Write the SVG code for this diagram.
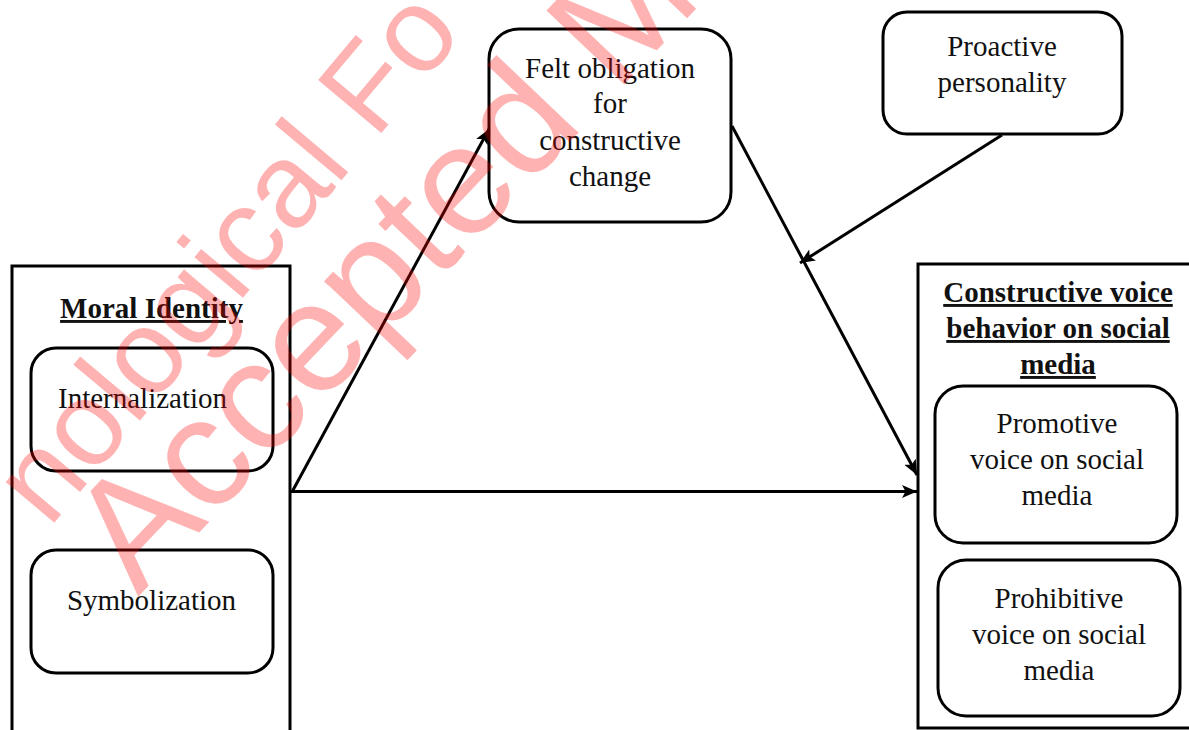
<svg xmlns="http://www.w3.org/2000/svg" width="1189" height="730" viewBox="0 0 1189 730">
<style>
.box{fill:none;stroke:#000;stroke-width:3}
.t{font-family:"Liberation Serif","Times New Roman",serif;font-size:29px;fill:#111}
.c{text-anchor:middle}
.b{font-weight:bold;text-decoration:underline}
.ln{fill:none;stroke:#000;stroke-width:3}
.wm{font-family:"Liberation Sans",Arial,sans-serif;fill:#ff0000;fill-opacity:0.3}
</style>
<defs>
<marker id="ah" markerUnits="userSpaceOnUse" markerWidth="16" markerHeight="14" refX="15" refY="6.5" orient="auto">
<path d="M0,0 L15,6.5 L0,13 L3.5,6.5 z" fill="#000"/>
</marker>
</defs>
<rect width="1189" height="730" fill="#fff"/>
<g id="moral-identity">
<rect class="box" x="12" y="266" width="278" height="480"/>
<text class="t c b" x="151.5" y="318">Moral Identity</text>
</g>
<g id="internalization">
<rect class="box" x="31" y="348" width="242" height="123" rx="25"/>
<text class="t" x="58" y="408">Internalization</text>
</g>
<g id="symbolization">
<rect class="box" x="31" y="550" width="242" height="123" rx="25"/>
<text class="t c" x="151.5" y="610">Symbolization</text>
</g>
<g id="felt-obligation">
<rect class="box" x="489" y="29" width="242" height="193" rx="30"/>
<text class="t c" x="610" y="78">Felt obligation</text>
<text class="t c" x="610" y="113">for</text>
<text class="t c" x="610" y="150">constructive</text>
<text class="t c" x="610" y="186">change</text>
</g>
<g id="proactive-personality">
<rect class="box" x="883" y="12" width="239" height="122" rx="24"/>
<text class="t c" x="1002" y="56">Proactive</text>
<text class="t c" x="1002" y="92">personality</text>
</g>
<g id="constructive-voice">
<rect class="box" x="918" y="264" width="290" height="464"/>
<text class="t c b" x="1058" y="302">Constructive voice</text>
<text class="t c b" x="1058" y="338">behavior on social</text>
<text class="t c b" x="1058" y="374">media</text>
</g>
<g id="promotive-voice">
<rect class="box" x="935" y="386" width="242" height="157" rx="28"/>
<text class="t c" x="1057" y="433">Promotive</text>
<text class="t c" x="1057" y="469">voice on social</text>
<text class="t c" x="1057" y="505">media</text>
</g>
<g id="prohibitive-voice">
<rect class="box" x="938" y="560" width="242" height="156" rx="28"/>
<text class="t c" x="1059" y="608">Prohibitive</text>
<text class="t c" x="1059" y="644">voice on social</text>
<text class="t c" x="1059" y="680">media</text>
</g>
<g id="connectors">
<line class="ln" x1="292" y1="492" x2="489" y2="129" marker-end="url(#ah)"/>
<line class="ln" x1="291" y1="491.5" x2="917" y2="491.5" marker-end="url(#ah)"/>
<line class="ln" x1="732" y1="126" x2="917" y2="475" marker-end="url(#ah)"/>
<line class="ln" x1="1002" y1="135" x2="800" y2="263" marker-end="url(#ah)"/>
</g>
<g id="watermark">
<text class="wm" font-size="120" transform="translate(49,529) rotate(-50)">nological Fo</text>
<text class="wm" font-size="156" transform="translate(138,597) rotate(-46.5)">Accepted M</text>
</g>
</svg>
